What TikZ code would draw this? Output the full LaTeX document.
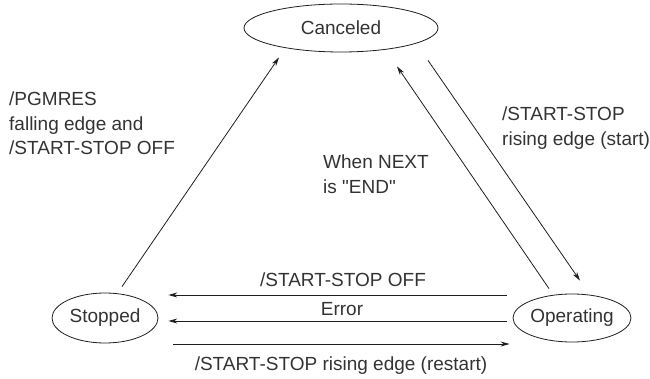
\documentclass[tikz,border=0pt]{standalone}
\usepackage{fontspec}
\newfontfamily\lblfont{Liberation Sans}
\usetikzlibrary{arrows.meta,shapes.geometric}
\definecolor{txt}{HTML}{333333}
\definecolor{ln}{HTML}{1E1E1E}
\tikzset{
  state/.style={draw=ln, line width=0.8pt, ellipse, inner sep=0pt, text=txt, font=\lblfont\fontsize{19}{24.5}\selectfont},
  arr/.style={draw=ln, line width=0.8pt, -{Stealth[length=9pt,width=5pt]}},
  lbl/.style={text=txt, inner sep=0pt, font=\lblfont\fontsize{19}{24.5}\selectfont, align=left},
}
\begin{document}
\begin{tikzpicture}[x=1pt,y=-1pt]
\useasboundingbox (0,0) rectangle (650,379);
\node[state, minimum width=194pt, minimum height=48pt] (canceled) at (341,28) {Canceled};
\node[state, minimum width=106pt, minimum height=50pt] (stopped) at (105,318) {Stopped};
\node[state, minimum width=108pt, minimum height=48pt] (operating) at (572,318) {Operating};

\draw[arr] ([shift={(17pt,6pt)}]stopped.north) -- ([shift={(-62pt,-5pt)}]canceled.south);
\draw[arr] ([shift={(87pt,-8pt)}]canceled.south) -- ([shift={(8pt,13pt)}]operating.north);
\draw[arr] ([shift={(-23pt,5pt)}]operating.north) -- ([shift={(56pt,-14pt)}]canceled.south);

\draw[arr] ([shift={(-6pt,23pt)}]operating.west) -- ([shift={(10pt,23pt)}]stopped.east);
\draw[arr] ([shift={(-6pt,-3pt)}]operating.west) -- ([shift={(10pt,-3pt)}]stopped.east);
\draw[arr] ([shift={(15pt,-26pt)}]stopped.east) -- ([shift={(-3pt,-26pt)}]operating.west);

\node[lbl, anchor=north west] (l1) at (9,92) {/PGMRES\\falling edge and\\/START-STOP OFF};
\node[lbl, anchor=north west] (l2) at (502,107) {/START-STOP\\rising edge (start)};
\node[lbl, anchor=north west] (l3) at (323,155) {When NEXT\\is "END"};
\node[lbl, anchor=base] (l4) at (343,287) {/START-STOP OFF};
\node[lbl, anchor=base] (l5) at (342,315) {Error};
\node[lbl, anchor=base] (l6) at (341,370) {/START-STOP rising edge (restart)};
\end{tikzpicture}
\end{document}
